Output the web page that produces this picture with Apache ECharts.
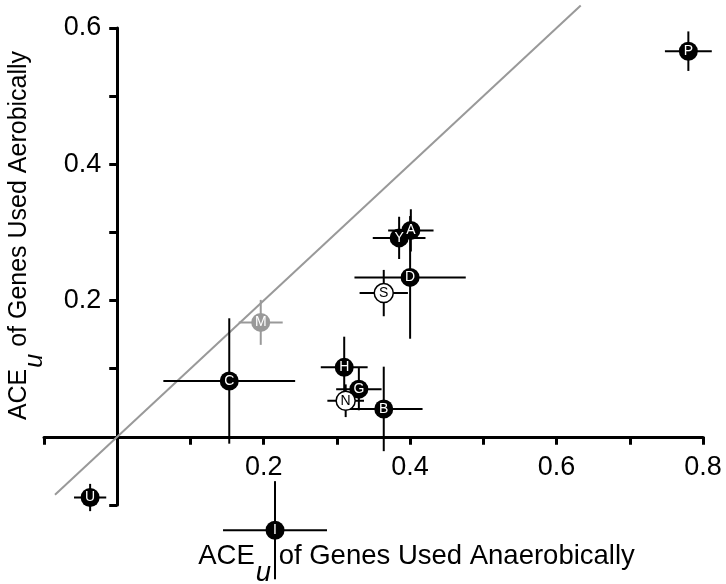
<!DOCTYPE html>
<html>
<head>
<meta charset="utf-8">
<script src="https://cdn.jsdelivr.net/npm/echarts@6/dist/echarts.min.js"></script>
<style>
html,body{margin:0;padding:0;background:#fff;}
#chart{width:726px;height:584px;}
</style>
</head>
<body>
<div id="chart"></div>
<script>
// ---- data ----
const labels  = ['P',   'A',   'Y',   'D',   'S',   'M',   'H',   'G',   'N',   'B',   'C',   'U',    'I'];
const xValues = [0.780, 0.401, 0.385, 0.400, 0.364, 0.196, 0.310, 0.330, 0.312, 0.364, 0.153, -0.037, 0.2155];
const yValues = [0.566, 0.303, 0.292, 0.234, 0.211, 0.168, 0.102, 0.070, 0.053, 0.041, 0.082, -0.089, -0.137];
const xErrors = [0.032, 0.031, 0.036, 0.076, 0.033, 0.030, 0.032, 0.031, 0.025, 0.053, 0.090, 0.022,  0.071];
const yErrors = [0.029, 0.031, 0.031, 0.090, 0.034, 0.033, 0.045, 0.031, 0.024, 0.062, 0.092, 0.020,  0.072];
const kinds   = ['filled','filled','filled','filled','open','gray','filled','filled','open','filled','filled','filled','filled'];
const diagonal = [[-0.085, -0.085], [0.633, 0.633]];
const xTickLabels = [0.2, 0.4, 0.6, 0.8];
const yTickLabels = [0.2, 0.4, 0.6];
const xTitle = ['ACE', 'u', ' of Genes Used Anaerobically'];
const yTitle = ['ACE', 'u', ' of Genes Used Aerobically'];

// ---- chart ----
const FONT = '"Liberation Sans", Arial, sans-serif';
const TICK_FS = 27;
const GRAY = '#999999';

const measureCtx = document.createElement('canvas').getContext('2d');
function textWidth(t, font) { measureCtx.font = font; return measureCtx.measureText(t).width; }

function titleGroup(parts, fs, cx, cy, rotation) {
  const mainFont = fs + 'px ' + FONT;
  const subFont = 'italic ' + fs + 'px ' + FONT;
  const w0 = textWidth(parts[0], mainFont);
  const w1 = textWidth(parts[1], subFont);
  const w2 = textWidth(parts[2], mainFont);
  const W = w0 + w1 + w2;
  const x = -W / 2;
  const mk = (t, xx, yy, font) => ({
    type: 'text', x: xx, y: yy, silent: true,
    style: { text: t, fill: '#000', font: font, align: 'left', verticalAlign: 'middle' }
  });
  const shift = Math.round(fs * 0.63);
  const children = [mk(parts[0], x, 0, mainFont), mk(parts[1], x + w0 + 1, shift, subFont), mk(parts[2], x + w0 + w1 + 1, 0, mainFont)];
  return { type: 'group', x: cx, y: cy, rotation: rotation, children: children };
}

const chart = echarts.init(document.getElementById('chart'), null, { renderer: 'canvas' });

const barData = xValues.map((x, i) => [x, yValues[i], xErrors[i], yErrors[i]]);
const pointData = xValues.map((x, i) => {
  const k = kinds[i];
  const fill = k === 'open' ? '#ffffff' : (k === 'gray' ? GRAY : '#000000');
  const border = k === 'open' ? '#000000' : fill;
  return {
    value: [x, yValues[i]],
    name: labels[i],
    itemStyle: { color: fill, borderColor: border, borderWidth: k === 'open' ? 1.5 : 0, opacity: 1 },
    label: { color: k === 'open' ? '#000' : '#fff' }
  };
});

const axisCommon = {
  type: 'value',
  interval: 0.1,
  splitLine: { show: false },
  axisLine: { show: true, onZero: true, lineStyle: { color: '#000', width: 3 } },
  axisTick: { show: true, length: 8, lineStyle: { color: '#000', width: 3 } },
  axisLabel: { show: false }
};

chart.setOption({
  animation: false,
  backgroundColor: '#ffffff',
  grid: { left: 44, right: 23, top: 28, bottom: 79, containLabel: false, outerBoundsMode: 'none' },
  xAxis: Object.assign({}, axisCommon, { min: -0.1, max: 0.8 }),
  yAxis: Object.assign({}, axisCommon, { min: -0.1, max: 0.6 }),
  series: [
    {
      type: 'line',
      data: diagonal,
      symbol: 'none',
      clip: false,
      lineStyle: { color: GRAY, width: 2 },
      z: 1,
      silent: true
    },
    {
      type: 'custom',
      clip: false,
      z: 2,
      data: barData,
      renderItem: function (params, api) {
        const i = params.dataIndex;
        const x = api.value(0), y = api.value(1), xe = api.value(2), ye = api.value(3);
        const l = api.coord([x - xe, y]), r = api.coord([x + xe, y]);
        const t = api.coord([x, y + ye]), b = api.coord([x, y - ye]);
        const color = kinds[i] === 'gray' ? GRAY : '#000';
        return {
          type: 'group',
          children: [
            { type: 'line', shape: { x1: l[0], y1: l[1], x2: r[0], y2: r[1] }, style: { stroke: color, lineWidth: 2 } },
            { type: 'line', shape: { x1: t[0], y1: t[1], x2: b[0], y2: b[1] }, style: { stroke: color, lineWidth: 2 } }
          ]
        };
      }
    },
    {
      type: 'scatter',
      clip: false,
      z: 3,
      symbol: 'circle',
      symbolSize: 19,
      itemStyle: { opacity: 1 },
      data: pointData,
      label: {
        show: true, position: 'inside', fontSize: 14, fontFamily: FONT,
        formatter: function (p) { return p.name; }
      }
    }
  ]
});

// tick labels placed at the crossing axes (through the chart's own scales)
const x0 = chart.convertToPixel({ xAxisIndex: 0 }, 0);
const y0 = chart.convertToPixel({ yAxisIndex: 0 }, 0);
const graphics = [];
xTickLabels.forEach(v => {
  graphics.push({
    type: 'text', silent: true,
    x: chart.convertToPixel({ xAxisIndex: 0 }, v), y: y0 + 17,
    style: { text: v.toFixed(1), font: TICK_FS + 'px ' + FONT, fill: '#000', align: 'center', verticalAlign: 'top' }
  });
});
yTickLabels.forEach(v => {
  graphics.push({
    type: 'text', silent: true,
    x: x0 - 16, y: chart.convertToPixel({ yAxisIndex: 0 }, v),
    style: { text: v.toFixed(1), font: TICK_FS + 'px ' + FONT, fill: '#000', align: 'right', verticalAlign: 'middle' }
  });
});
graphics.push(titleGroup(xTitle, 27.5, 416, 556, 0));
graphics.push(titleGroup(yTitle, 25, 19, 236, Math.PI / 2));
chart.setOption({ graphic: graphics });
</script>
</body>
</html>
